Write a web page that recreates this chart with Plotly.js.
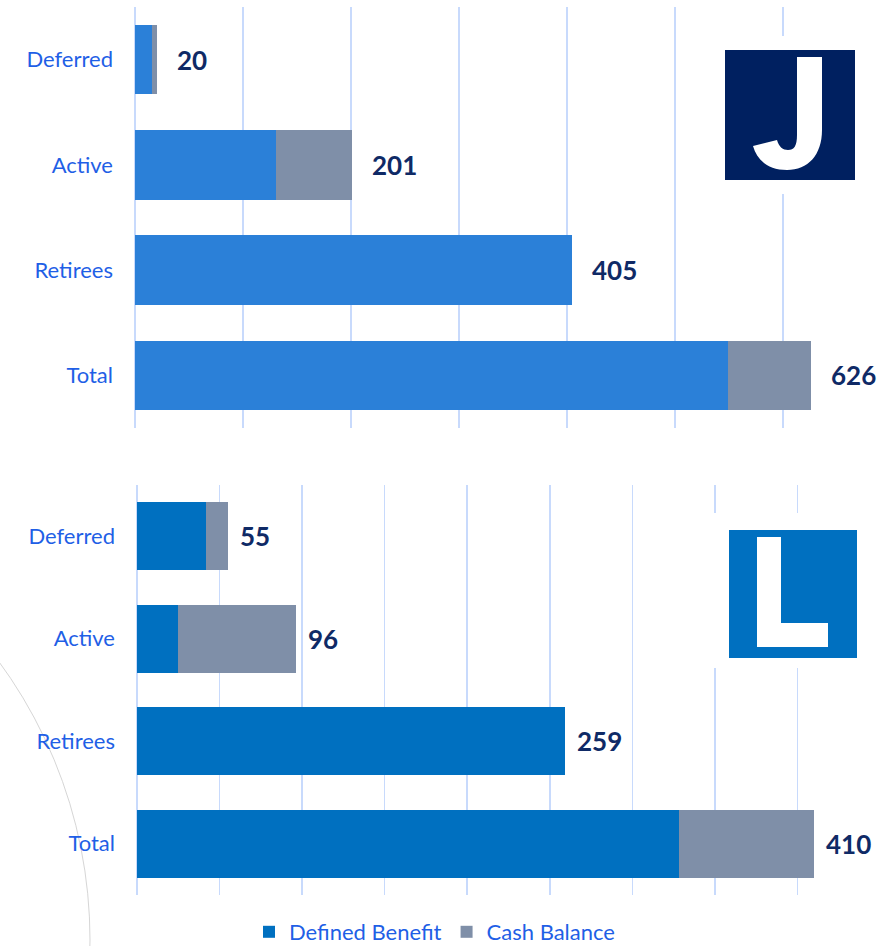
<!DOCTYPE html>
<html><head><meta charset="utf-8">
<script src="https://cdn.plot.ly/plotly-3.0.1.min.js"></script>
<style>html,body{margin:0;padding:0;background:#fff}</style></head>
<body><div id="chart" style="width:894px;height:946px"></div>
<script>
const categories = ['Deferred', 'Active', 'Retirees', 'Total'];
const jDefinedBenefit = [16, 131, 405, 549];
const jCashBalance = [4, 70, 0, 77];
const jTotals = [20, 201, 405, 626];
const lDefinedBenefit = [42, 25, 259, 328];
const lCashBalance = [13, 71, 0, 82];
const lTotals = [55, 96, 259, 410];
const seriesNames = ['Defined Benefit', 'Cash Balance'];

const W = 894, H = 946, ML = 135, MR = 3, MT = 7, MB = 51;
const PW = W - ML - MR, PH = H - MT - MB;
const px = x => (x - ML) / PW;
const py = y => (H - MB - y) / PH;

const catColor = '#1f5fe6';
const labColor = '#0f2a66';
const gridColor = '#c8dafc';
const cbColor = '#7f8fa8';

const traces = [
  {type:'bar', orientation:'h', name:seriesNames[0], y:categories, x:jDefinedBenefit, xaxis:'x', yaxis:'y',
   marker:{color:'#2b80d8'}, showlegend:false, hoverinfo:'x'},
  {type:'bar', orientation:'h', name:seriesNames[1], y:categories, x:jCashBalance, xaxis:'x', yaxis:'y',
   marker:{color:cbColor}, showlegend:false, hoverinfo:'x'},
  {type:'bar', orientation:'h', name:seriesNames[0], y:categories, x:lDefinedBenefit, xaxis:'x2', yaxis:'y2',
   marker:{color:'#0070c0'}, hoverinfo:'x'},
  {type:'bar', orientation:'h', name:seriesNames[1], y:categories, x:lCashBalance, xaxis:'x2', yaxis:'y2',
   marker:{color:cbColor}, hoverinfo:'x'}
];

const annotations = [];
categories.forEach((c, i) => {
  annotations.push({x:jTotals[i], y:c, xref:'x', yref:'y', text:'<b>'+jTotals[i]+'</b>', showarrow:false,
    xanchor:'left', xshift:18, font:{family:'Lato', size:26, color:labColor}});
  annotations.push({x:lTotals[i], y:c, xref:'x2', yref:'y2', text:'<b>'+lTotals[i]+'</b>', showarrow:false,
    xanchor:'left', xshift:10, font:{family:'Lato', size:26, color:labColor}});
});

function rect(x0, y0, x1, y1, color) {
  return {type:'rect', xref:'paper', yref:'paper', x0:px(x0), x1:px(x1), y0:py(y1), y1:py(y0),
    fillcolor:color, line:{width:0}, layer:'above'};
}
function pathShape(points, color) {
  let d = '';
  points.forEach(p => {
    d += p[0];
    const parts = [];
    for (let k = 1; k < p.length; k += 2) parts.push(px(p[k]).toFixed(5) + ',' + py(p[k+1]).toFixed(5));
    d += parts.join(' ') + ' ';
  });
  return {type:'path', xref:'paper', yref:'paper', path:d + 'Z', fillcolor:color, line:{width:0}, layer:'above'};
}

const shapes = [
  {type:'circle', xref:'paper', yref:'paper', x0:px(-381-471), x1:px(-381+471), y0:py(940+471), y1:py(940-471),
   line:{color:'#d6d6d6', width:1}, layer:'below'},
  rect(711, 36, 869, 194, '#ffffff'),
  rect(725, 50, 855, 180, '#002060'),
  pathShape([
    ['M', 797, 57], ['L', 822, 57], ['L', 822, 130],
    ['C', 822, 155, 808, 170, 787, 170],
    ['C', 768, 170, 757, 160, 753, 146],
    ['L', 777, 140],
    ['C', 779, 147, 783, 150, 788, 150],
    ['C', 794, 150, 797, 146, 797, 135]
  ], '#ffffff'),
  rect(710, 513, 870, 668, '#ffffff'),
  rect(729, 530, 857, 658, '#0070c0'),
  rect(757, 537, 781, 647, '#ffffff'),
  rect(757, 623, 828, 647, '#ffffff')
];

const xCommon = {showticklabels:false, ticks:'', showgrid:true, gridcolor:gridColor, gridwidth:1.5,
  zeroline:true, zerolinecolor:gridColor, zerolinewidth:1.5, showline:false, fixedrange:true};
const yCommon = {type:'category', categoryorder:'array', categoryarray:categories, range:[3.5, -0.5],
  showgrid:false, zeroline:false, showline:false, ticks:'', ticklabelstandoff:21,
  tickfont:{family:'Lato', size:22, color:catColor}};

const layout = {
  width:W, height:H, margin:{l:ML, r:MR, t:MT, b:MB, autoexpand:false},
  paper_bgcolor:'#ffffff', plot_bgcolor:'#ffffff',
  barmode:'stack', bargap:0.34,
  xaxis:Object.assign({}, xCommon, {domain:[0, 1], range:[0, 700], dtick:100, anchor:'y'}),
  yaxis:Object.assign({}, yCommon, {domain:[py(428), py(7)], anchor:'x'}),
  xaxis2:Object.assign({}, xCommon, {domain:[px(137), px(880)], range:[0, 450], dtick:50, anchor:'y2'}),
  yaxis2:Object.assign({}, yCommon, {domain:[py(895), py(485)], anchor:'x2'}),
  legend:{orientation:'h', x:px(249), xanchor:'left', y:py(932), yanchor:'middle',
    font:{family:'Lato', size:22, color:catColor}, traceorder:'normal', bgcolor:'rgba(0,0,0,0)'},
  annotations:annotations, shapes:shapes, showlegend:true
};

Plotly.newPlot('chart', traces, layout, {displayModeBar:false, staticPlot:true});
</script></body></html>
